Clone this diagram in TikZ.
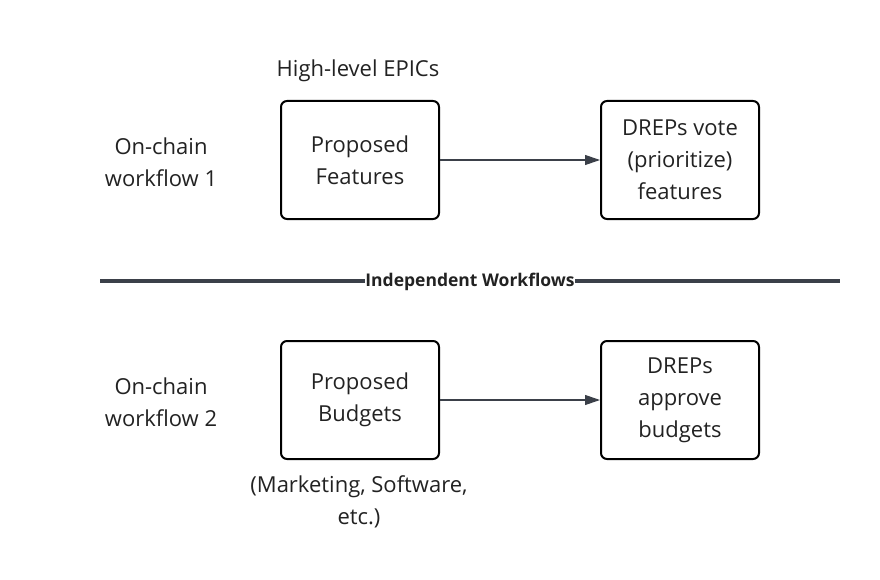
\documentclass[tikz,border=0pt]{standalone}
\usepackage{fontspec}
\setmainfont{Open Sans}
\usetikzlibrary{arrows.meta}
\definecolor{linegray}{HTML}{3B4049}
\definecolor{textdark}{HTML}{222222}
\tikzset{
  txt/.style={font=\fontsize{22}{32}\selectfont, text=textdark, align=center, inner sep=0pt},
  stagebox/.style={draw=black, line width=2pt, rounded corners=6pt, minimum width=158pt, minimum height=118pt, align=center, font=\fontsize{22}{32}\selectfont, text=textdark},
  flow/.style={draw=linegray, line width=1.1pt, -{Triangle[length=15pt,width=10pt]}},
  divider/.style={draw=linegray, line width=4pt},
  divlabel/.style={font=\fontsize{17.5}{20}\selectfont\bfseries, text=textdark, fill=white, inner sep=0pt}
}
\begin{document}
\begin{tikzpicture}[x=1pt,y=-1pt]
\useasboundingbox (0,0) rectangle (880,580);
% top workflow
\node[txt] (hl) at (358,71) {High-level EPICs};
\node[txt] (wf1) at (161,162) {On-chain\\workflow 1};
\node[stagebox] (pf) at (360,160) {Proposed\\Features};
\node[stagebox] (dv) at (680,160) {DREPs vote\\(prioritize)\\features};
\draw[flow] (pf.east) -- (dv.west);
% divider
\coordinate (dl) at (100,280.5);
\coordinate (dr) at (840,280.5);
\draw[divider] (dl) -- (dr);
\node[divlabel, anchor=base] (div) at (470,286.5) {Independent Workflows};
% bottom workflow
\node[txt] (wf2) at (161,402) {On-chain\\workflow 2};
\node[stagebox] (pb) at (360,400) {Proposed\\Budgets};
\node[stagebox] (da) at (680,400) {DREPs\\approve\\budgets};
\draw[flow] (pb.east) -- (da.west);
\node[txt] (mk) at (359,502) {(Marketing, Software,\\etc.)};
\end{tikzpicture}
\end{document}
